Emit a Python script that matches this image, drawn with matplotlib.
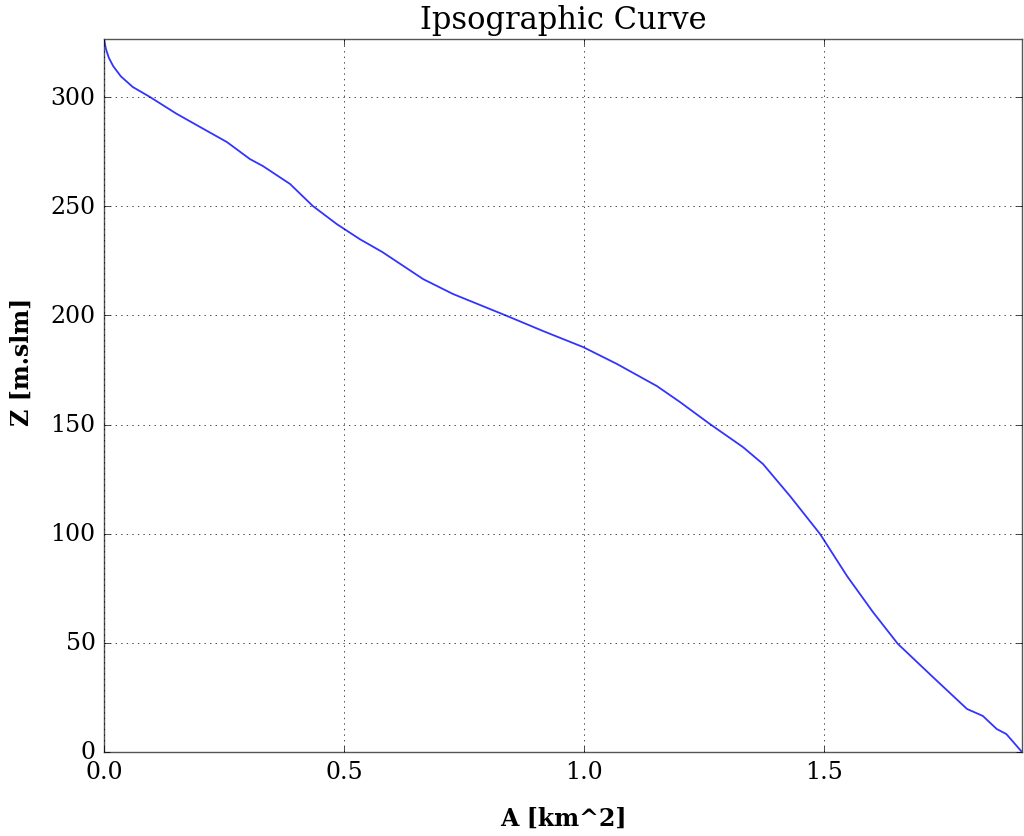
import matplotlib
matplotlib.use("Agg")
import matplotlib.pyplot as plt

# aire cumulée (km^2) et altitude (m s.l.m.)
area = [0.0, 0.004, 0.01, 0.019, 0.035, 0.06, 0.096, 0.15, 0.2, 0.256, 0.304,
        0.331, 0.3875, 0.435, 0.485, 0.533, 0.58, 0.665, 0.727, 0.84, 0.915,
        0.998, 1.069, 1.152, 1.2, 1.2625, 1.331, 1.373, 1.429, 1.492, 1.548,
        1.602, 1.654, 1.727, 1.798, 1.831, 1.86, 1.88, 1.9125]
elev = [326.6, 322, 318, 314.2, 309.5, 304.6, 300, 292.5, 286.3, 279.4, 271.6,
        268.4, 260.2, 250.1, 241.8, 234.9, 229, 216.6, 209.8, 199.7, 192.8,
        185.5, 177.7, 167.6, 160.3, 150.2, 139.7, 131.9, 117.3, 99.8, 80.6,
        64.1, 49.5, 34.3, 19.7, 16.5, 10.5, 8.2, 0.0]

plt.style.use("classic")
plt.rcParams["font.family"] = "DejaVu Serif"

fig = plt.figure(figsize=(10.24, 8.37), dpi=100)
ax = fig.add_axes([0.1016, 0.1004, 0.8964, 0.8518])
ax.plot(area, elev, color="#3333ff", lw=1.3)
ax.set_xlim(min(area), max(area))
ax.set_ylim(min(elev), max(elev))
ax.set_xticks([0.0, 0.5, 1.0, 1.5])
ax.tick_params(labelsize=17, pad=6)
ax.grid(True)
ax.set_title("Ipsographic Curve", fontsize=22, y=1.005)
ax.set_xlabel("A [km^2]", fontsize=17, fontweight="bold", labelpad=16)
ax.set_ylabel("Z [m.slm]", fontsize=17, fontweight="bold", labelpad=12)
ax.yaxis.label.set_y(0.548)
for s in ax.spines.values():
    s.set_color("#555555")

fig.savefig("out.png", dpi=100)
